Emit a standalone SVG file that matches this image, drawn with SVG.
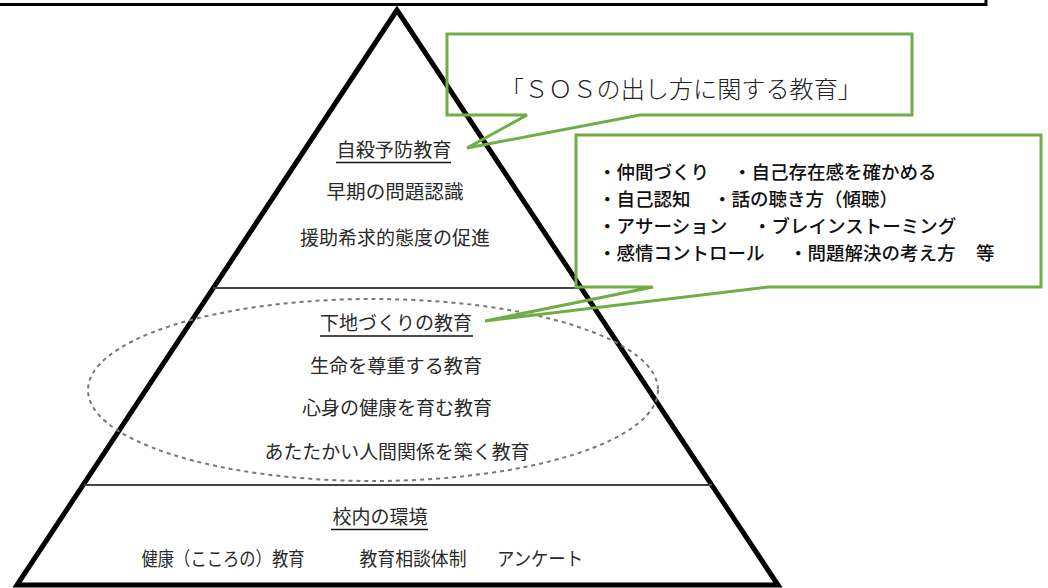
<svg xmlns="http://www.w3.org/2000/svg" width="1048" height="588" viewBox="0 0 1048 588">
<style>
.t{font-family:"Noto Sans CJK JP","Noto Sans CJK SC",sans-serif;font-weight:400;font-size:19px;fill:#2a2a2a;text-anchor:middle}
.g{font-family:"Noto Sans CJK JP","Noto Sans CJK SC",sans-serif;font-weight:500;font-size:18.5px;fill:#111}
.u{stroke:#111;stroke-width:1.5}
.div{stroke:#444;stroke-width:2}
.call{fill:none;stroke:#70AD47;stroke-width:3;stroke-linejoin:miter}
</style>
<rect width="1048" height="588" fill="#fff"/>
<g id="topbox"><rect x="-10" y="-10" width="996" height="14.5" fill="none" stroke="#000" stroke-width="3"/></g>
<g id="pyramid">
<polygon points="397,10 17,585 778,585" fill="none" stroke="#000" stroke-width="5" stroke-linejoin="miter"/>
<line class="div" x1="213" y1="288" x2="580" y2="288"/>
<line class="div" x1="84" y1="485" x2="712" y2="485"/>
<ellipse cx="373" cy="390" rx="285" ry="91" fill="none" stroke="#777" stroke-width="2" stroke-dasharray="4,4"/>
</g>
<g id="tier-top">
<text class="t" x="394" y="157" textLength="115" lengthAdjust="spacingAndGlyphs">自殺予防教育</text>
<line class="u" x1="336" y1="162.5" x2="451" y2="162.5"/>
<text class="t" x="395" y="199" textLength="137" lengthAdjust="spacingAndGlyphs">早期の問題認識</text>
<text class="t" x="395" y="245" textLength="190" lengthAdjust="spacingAndGlyphs">援助希求的態度の促進</text>
</g>
<g id="tier-mid">
<text class="t" x="396" y="330" textLength="152" lengthAdjust="spacingAndGlyphs">下地づくりの教育</text>
<line class="u" x1="320" y1="336" x2="473" y2="336"/>
<text class="t" x="396" y="373" textLength="172" lengthAdjust="spacingAndGlyphs">生命を尊重する教育</text>
<text class="t" x="397" y="415" textLength="190" lengthAdjust="spacingAndGlyphs">心身の健康を育む教育</text>
<text class="t" x="397" y="459" textLength="265" lengthAdjust="spacingAndGlyphs">あたたかい人間関係を築く教育</text>
</g>
<g id="tier-bottom">
<text class="t" x="380" y="524" textLength="95" lengthAdjust="spacingAndGlyphs">校内の環境</text>
<line class="u" x1="331" y1="529.5" x2="428" y2="529.5"/>
<text class="t" x="223" y="566" textLength="163" lengthAdjust="spacingAndGlyphs">健康（こころの）教育</text>
<text class="t" x="413" y="566" textLength="107" lengthAdjust="spacingAndGlyphs">教育相談体制</text>
<text class="t" x="540" y="566" textLength="86" lengthAdjust="spacingAndGlyphs">アンケート</text>
</g>
<g id="connectors">
<path class="call" d="M447,34 H912 V115 H640 L467,148 L527,115 H447 Z"/>
<path class="call" d="M576,135 H1041 V287 H768 L485,321 L653,287 H576 Z"/>
</g>
<g id="callout-sos">
<text x="500" y="98" font-family="Noto Sans CJK JP, Noto Sans CJK SC, sans-serif" font-weight="300" font-size="24" fill="#222" textLength="362" lengthAdjust="spacingAndGlyphs">「ＳＯＳの出し方に関する教育」</text>
</g>
<g id="callout-list">
<text class="g" x="598" y="179">・仲間づくり</text>
<text class="g" x="733" y="179">・自己存在感を確かめる</text>
<text class="g" x="598" y="206">・自己認知</text>
<text class="g" x="713" y="206">・話の聴き方（傾聴）</text>
<text class="g" x="598" y="233">・アサーション</text>
<text class="g" x="753" y="233">・ブレインストーミング</text>
<text class="g" x="598" y="260">・感情コントロール</text>
<text class="g" x="789" y="260">・問題解決の考え方</text>
<text class="g" x="976" y="260">等</text>
</g>
</svg>
